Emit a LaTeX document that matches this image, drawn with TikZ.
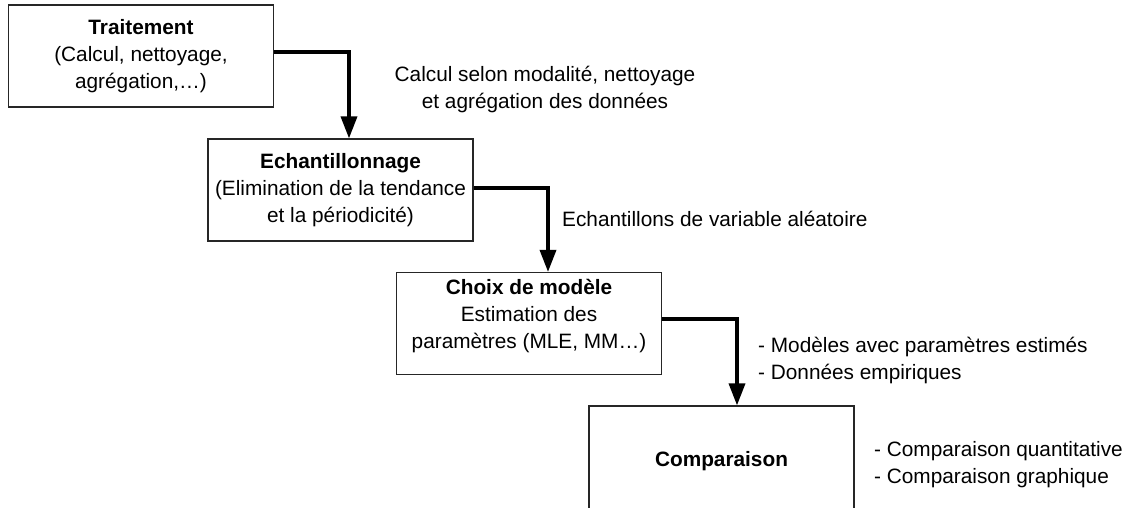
\documentclass[tikz,border=0pt]{standalone}
\usepackage{fontspec}
\setmainfont{Liberation Sans}
\usetikzlibrary{arrows.meta}
\begin{document}
\begin{tikzpicture}[x=1pt,y=-1pt,
  every node/.style={font=\fontsize{20.8}{27}\selectfont},
  box/.style={draw=black!85, line width=1.2pt, minimum width=265pt, minimum height=102pt, align=center, inner sep=0pt},
  txt/.style={align=center, inner sep=0pt},
  lbl/.style={align=left, inner sep=0pt, anchor=west},
  arr/.style={line width=3.5pt, -{Triangle[width=16pt,length=22pt]}}
]
\useasboundingbox (0,0) rectangle (1134,507);
\node[box] (b1) at (141,56) {\textbf{Traitement}\\(Calcul, nettoyage,\\agrégation,…)};
\node[box] (b2) at (340.5,190) {\textbf{Echantillonnage}\\(Elimination de la tendance\\et la périodicité)};
\node[box] (b3) at (529,323.5) {};
\node[txt] (t3) at (529,316) {\textbf{Choix de modèle}\\Estimation des\\paramètres (MLE, MM…)};
\node[box, minimum height=110pt] (b4) at (721.5,461) {\textbf{Comparaison}};

\draw[arr] ([yshift=4pt]b1.east) -| ([xshift=8.5pt]b2.north);
\draw[arr] ([yshift=2pt]b2.east) -| ([xshift=19pt]b3.north);
\draw[arr] ([yshift=4.5pt]b3.east) -| ([xshift=15.5pt]b4.north);

\node[txt] (l1) at (545,89.5) {Calcul selon modalité, nettoyage\\et agrégation des données};
\node[lbl] (l2) at (562,219) {Echantillons de variable aléatoire};
\node[lbl] (l3) at (758,360) {- Modèles avec paramètres estimés\\- Données empiriques};
\node[lbl] (l4) at (874,464.5) {- Comparaison quantitative\\- Comparaison graphique};
\end{tikzpicture}
\end{document}
